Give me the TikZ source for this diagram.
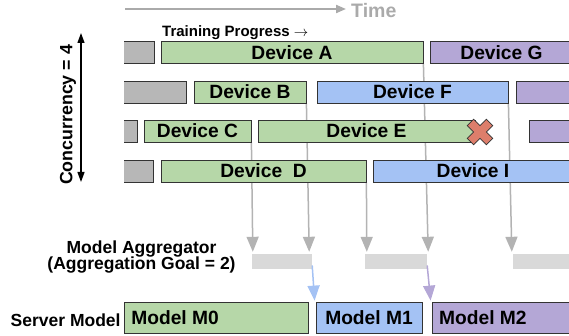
\documentclass[tikz,border=0pt]{standalone}
\usepackage{fontspec}
\setmainfont{Liberation Sans}
\usetikzlibrary{arrows.meta,backgrounds}

\definecolor{oldfill}{HTML}{B7B7B7}
\definecolor{greenfill}{HTML}{B6D7A8}
\definecolor{bluefill}{HTML}{A4C2F4}
\definecolor{purplefill}{HTML}{B4A7D6}
\definecolor{aggfill}{HTML}{D9D9D9}
\definecolor{linkgray}{HTML}{B3B3B3}
\definecolor{timegray}{HTML}{AAAAAA}
\definecolor{crossfill}{HTML}{DD7E6B}
\definecolor{edge}{HTML}{333333}

% a box given by its corners: name, style, x1, y1, x2, y2, text
\newcommand\mkbar[7]{%
  \node[#2, minimum width={#5-#3}, minimum height={#6-#4}] (#1)
    at ({(#3+#5)/2},{(#4+#6)/2}) {#7};}

\begin{document}
\begin{tikzpicture}[x=1pt,y=-1pt,
  bar/.style={draw=edge, line width=0.8pt, inner sep=0pt,
    font=\fontsize{19.2}{22}\bfseries, text height=13.7pt, text depth=0pt},
  oldbar/.style={bar, fill=oldfill},
  greenbar/.style={bar, fill=greenfill},
  bluebar/.style={bar, fill=bluefill},
  purplebar/.style={bar, fill=purplefill},
  aggbar/.style={fill=aggfill, draw=none, inner sep=0pt},
  lbl/.style={inner sep=0pt, font=\fontsize{19.2}{22}\bfseries,
    text height=13.7pt, text depth=0pt},
  side/.style={inner sep=0pt, font=\fontsize{17.5}{20}\bfseries},
  link/.style={draw=linkgray, line width=1.5pt,
    -{Triangle[width=12pt,length=15pt]}},
  bluelink/.style={link, draw=bluefill},
  purplelink/.style={link, draw=purplefill},
]
\useasboundingbox (0,0) rectangle (569,336);
\clip (0,0) rectangle (569,336);

% time axis
\coordinate (t0) at (125,9);
\coordinate (t1) at (346,9);
\draw[draw=timegray, line width=2pt, -{Triangle[width=8pt,length=10pt]}] (t0) -- (t1);
\node[inner sep=0pt, anchor=base west, text=timegray,
  font=\fontsize{19.5}{22}\bfseries] (time) at (351,18) {Time};

\node[inner sep=0pt, anchor=base west, font=\fontsize{15}{18}\bfseries]
  (progress) at (162,37) {Training Progress $\rightarrow$};

% concurrency axis
\coordinate (c0) at (81,182);
\coordinate (c1) at (81,33);
\draw[line width=1.2pt, {Triangle[width=7pt,length=10pt]}-{Triangle[width=7pt,length=10pt]}] (c0) -- (c1);
\node[side, font=\fontsize{17.8}{20}\bfseries, rotate=90, text height=12.7pt,
  text depth=0pt] (conc) at (66,115) {Concurrency = 4};

% device rounds
\begin{scope}
  \clip (124,0) rectangle (569,336);
  \mkbar{old1}{oldbar}{110}{41}{154}{63.5}{}
  \mkbar{A}{greenbar}{161}{41}{423}{63.5}{Device A}
  \mkbar{G}{purplebar}{430}{41}{573}{63.5}{Device G}

  \mkbar{old2}{oldbar}{110}{81}{186}{103}{}
  \mkbar{B}{greenbar}{194}{81}{306}{103}{Device B}
  \mkbar{F}{bluebar}{317}{81}{508}{103}{Device F}
  \mkbar{P2}{purplebar}{516}{81}{580}{103}{}

  \mkbar{old3}{oldbar}{110}{120}{137}{142}{}
  \mkbar{C}{greenbar}{144}{120}{251}{142}{Device C}
  \mkbar{E}{greenbar}{258}{120}{475}{142}{Device E}
  \mkbar{P3}{purplebar}{529}{120}{580}{142}{}

  \mkbar{old4}{oldbar}{110}{160}{153}{182}{}
  \mkbar{D}{greenbar}{161}{160}{366}{182}{Device\ \ D}
  \mkbar{I}{bluebar}{373}{160}{573}{182}{Device I}
\end{scope}

% failed device
\begin{scope}[shift={(480,132)}, rotate=45]
  \draw[draw=edge, line width=0.8pt, fill=crossfill]
    (4.5,4.5) -- (4.5,13.5) -- (-4.5,13.5) -- (-4.5,4.5) -- (-13.5,4.5)
    -- (-13.5,-4.5) -- (-4.5,-4.5) -- (-4.5,-13.5) -- (4.5,-13.5)
    -- (4.5,-4.5) -- (13.5,-4.5) -- (13.5,4.5) -- cycle;
\end{scope}

% aggregator buffers
\mkbar{agg1}{aggbar}{252}{254}{312}{269}{}
\mkbar{agg2}{aggbar}{365}{254}{427}{269}{}
\mkbar{agg3}{aggbar}{513}{254}{580}{269}{}

\begin{pgfonlayer}{background}
  \draw[link] (C.south east) -- ([xshift=1pt,yshift=2pt]agg1.north west);
  \draw[link] (B.south east) -- ([xshift=-3pt,yshift=2pt]agg1.north east);
  \draw[link] (D.south east) -- ([xshift=2pt,yshift=2pt]agg2.north west);
  \draw[link] (A.south east) -- ([xshift=1pt,yshift=2pt]agg2.north east);
  \draw[link] (F.south east) -- ([xshift=-1pt,yshift=2pt]agg3.north west);
\end{pgfonlayer}

\node[side, anchor=base] (aggname) at (141.5,253.5) {Model Aggregator};
\node[side, anchor=base] (agggoal) at (141.5,269.5) {(Aggregation Goal = 2)};

% server model versions
\mkbar{M0}{greenbar}{124.5}{302}{308}{333}{}
\mkbar{M1}{bluebar}{316}{302}{422}{333}{Model M1}
\mkbar{M2}{purplebar}{432}{302}{580}{333}{}
\node[lbl, anchor=west] (m0txt) at ([xshift=7pt]M0.west) {Model M0};
\node[lbl, anchor=west] (m2txt) at (439,317.5) {Model M2};

\draw[bluelink] ([yshift=-4pt]agg1.east) -- ([xshift=-1pt,yshift=1pt]M1.north west);
\draw[purplelink] ([yshift=-4pt]agg2.east) -- ([xshift=-1pt,yshift=1pt]M2.north west);

\node[side, anchor=base west] (server) at (10.5,326.5) {Server Model};
\end{tikzpicture}
\end{document}
